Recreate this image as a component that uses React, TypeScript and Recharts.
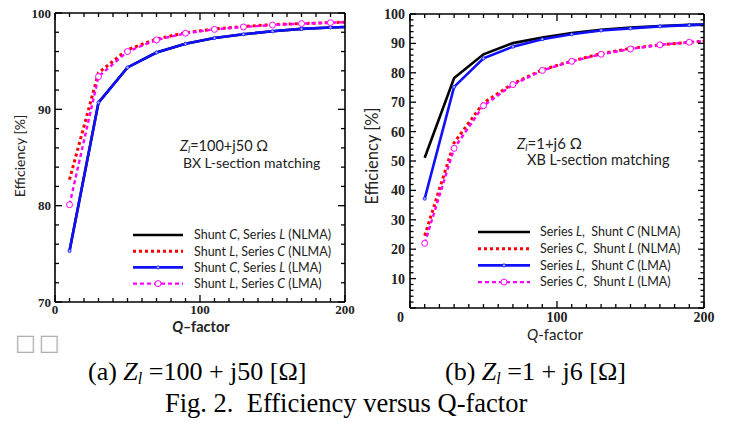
import React from 'react';
import { LineChart, Line, XAxis, YAxis, Legend } from 'recharts';

// ---------- data ----------
const qFactor = [10, 30, 50, 70, 90, 110, 130, 150, 170, 190, 210];

// (a) Zl = 100 + j50
const aNlmaShuntCSeriesL = [75.3, 90.7, 94.35, 95.9, 96.8, 97.4, 97.8, 98.1, 98.35, 98.5, 98.6];
const aNlmaShuntLSeriesC = [82.7, 93.8, 96.2, 97.3, 97.95, 98.35, 98.6, 98.8, 98.9, 99.0, 99.1];
const aLmaShuntCSeriesL = [75.3, 90.7, 94.35, 95.9, 96.8, 97.4, 97.8, 98.1, 98.35, 98.5, 98.6];
const aLmaShuntLSeriesC = [80.1, 93.4, 96.0, 97.2, 97.9, 98.3, 98.55, 98.75, 98.9, 99.0, 99.1];

// (b) Zl = 1 + j6
const bNlmaSeriesLShuntC = [51.1, 78.2, 86.3, 90.1, 92.0, 93.5, 94.6, 95.4, 95.9, 96.3, 96.6];
const bNlmaSeriesCShuntL = [24.6, 56.2, 69.8, 76.3, 81.0, 84.0, 86.5, 88.3, 89.5, 90.4, 91.1];
const bLmaSeriesLShuntC = [37.2, 75.2, 84.9, 88.9, 91.4, 93.1, 94.4, 95.1, 95.8, 96.2, 96.6];
const bLmaSeriesCShuntL = [22.0, 54.3, 68.8, 76.0, 80.8, 83.9, 86.3, 88.1, 89.5, 90.4, 91.1];

// ticks
const xLabelTicks = [0, 100, 200];
const aYLabelTicks = [70, 80, 90, 100];
const bYLabelTicks = [10, 20, 30, 40, 50, 60, 70, 80, 90, 100];
const bYMajorTicks = [0, 10, 20, 30, 40, 50, 60, 70, 80, 90, 100];
const xAllTicks = Array.from({ length: 21 }, (_, i) => i * 10);
const aYAllTicks = Array.from({ length: 16 }, (_, i) => 70 + i * 2);
const bYAllTicks = Array.from({ length: 51 }, (_, i) => i * 2);

// legend names (odd parts italic)
const aNames = [
  ['Shunt ', 'C', ', Series ', 'L', ' (NLMA)'],
  ['Shunt ', 'L', ', Series ', 'C', ' (NLMA)'],
  ['Shunt ', 'C', ', Series ', 'L', ' (LMA)'],
  ['Shunt ', 'L', ', Series ', 'C', ' (LMA)'],
];
const bNames = [
  ['Series ', 'L', ',  Shunt ', 'C', ' (NLMA)'],
  ['Series ', 'C', ',  Shunt ', 'L', ' (NLMA)'],
  ['Series ', 'L', ',  Shunt ', 'C', ' (LMA)'],
  ['Series ', 'C', ',  Shunt ', 'L', ' (LMA)'],
];

const dataA = qFactor.map((q, i) => ({
  q,
  s1: aNlmaShuntCSeriesL[i],
  s2: aNlmaShuntLSeriesC[i],
  s3: aLmaShuntCSeriesL[i],
  s4: aLmaShuntLSeriesC[i],
}));
const dataB = qFactor.map((q, i) => ({
  q,
  s1: bNlmaSeriesLShuntC[i],
  s2: bNlmaSeriesCShuntL[i],
  s3: bLmaSeriesLShuntC[i],
  s4: bLmaSeriesCShuntL[i],
}));

// ---------- styles ----------
const SANS = "Lato, 'Open Sans', sans-serif";
const SERIF = "'Liberation Serif', 'Times New Roman', serif";
const styles = [
  { key: 's1', color: '#000000', width: 2.6, dash: undefined as string | undefined, marker: 'none' },
  { key: 's2', color: '#ff0000', width: 3, dash: '3 3', marker: 'none' },
  { key: 's3', color: '#1010ff', width: 2.6, dash: undefined as string | undefined, marker: 'dot' },
  { key: 's4', color: '#ff00ff', width: 2.4, dash: '4 3', marker: 'circle' },
];

type TickOpts = {
  side: 'bottom' | 'top' | 'left' | 'right';
  majors: number[];
  labels: number[];
  offset: number;
  fontSize: number;
  majorLen: number;
  minorLen: number;
  zeroDx?: number;
};

function makeTick(o: TickOpts) {
  return function Tick(props: any) {
    const { x, y, payload } = props;
    const v = Number(payload.value);
    const isMajor = o.majors.includes(v);
    const len = isMajor ? o.majorLen : o.minorLen;
    let x2 = x;
    let y2 = y;
    if (o.side === 'bottom') y2 = y - len;
    if (o.side === 'top') y2 = y + len;
    if (o.side === 'left') x2 = x + len;
    if (o.side === 'right') x2 = x - len;
    let label = null;
    if (o.labels.includes(v)) {
      if (o.side === 'bottom') {
        label = (
          <text x={x + (v === 0 ? o.zeroDx || 0 : 0)} y={y + o.offset} textAnchor="middle"
            fontFamily={SERIF} fontWeight="bold" fontSize={o.fontSize} fill="#222">{v}</text>
        );
      } else if (o.side === 'left') {
        label = (
          <text x={x - o.offset} y={y} dy="0.35em" textAnchor="end"
            fontFamily={SERIF} fontWeight="bold" fontSize={o.fontSize} fill="#222">{v}</text>
        );
      }
    }
    return (
      <g>
        <line x1={x} y1={y} x2={x2} y2={y2} stroke="#000" strokeWidth={1.3} />
        {label}
      </g>
    );
  };
}

const BlueDot = (props: any) => {
  const { cx, cy } = props;
  if (cx == null || cy == null) return null;
  return <circle cx={cx} cy={cy} r={1.6} fill="#9fb4ff" stroke="#1010ff" strokeWidth={0.8} />;
};
const PinkCircle = (props: any) => {
  const { cx, cy } = props;
  if (cx == null || cy == null) return null;
  return <circle cx={cx} cy={cy} r={3} fill="#ffffff" stroke="#ff00ff" strokeWidth={1} />;
};

function makeLegend(names: string[][], lineLen: number, textX: number, rowH: number, fontSize: number) {
  return function LegendContent() {
    return (
      <svg width={230} height={75} style={{ overflow: 'visible', display: 'block' }}>
        {styles.map((s, i) => {
          const y = 9 + i * rowH;
          return (
            <g key={s.key}>
              <line x1={3} x2={3 + lineLen} y1={y} y2={y} stroke={s.color} strokeWidth={s.width}
                strokeDasharray={s.dash} />
              {s.marker === 'dot' && <circle cx={3 + lineLen / 2} cy={y} r={1.6} fill="#9fb4ff" stroke="#1010ff" strokeWidth={0.8} />}
              {s.marker === 'circle' && <circle cx={3 + lineLen / 2} cy={y} r={3} fill="#fff" stroke="#ff00ff" strokeWidth={1} />}
              <text x={textX} y={y} dy="0.35em" fontFamily={SANS} fontSize={fontSize} fill="#222"
                style={{ whiteSpace: 'pre' }}>
                {names[i].map((p, j) => (
                  <tspan key={j} fontStyle={j % 2 === 1 ? 'italic' : 'normal'}>{p}</tspan>
                ))}
              </text>
            </g>
          );
        })}
      </svg>
    );
  };
}

const axisLine = { stroke: '#000', strokeWidth: 1.6 };

function ChartA() {
  return (
    <LineChart width={360} height={340} data={dataA}
      margin={{ top: 8, right: 10, bottom: 8, left: 5 }}>
      <XAxis xAxisId="b" dataKey="q" type="number" domain={[0, 200]} allowDataOverflow
        ticks={xAllTicks} interval={0} tickSize={0} tickMargin={0} height={30} axisLine={axisLine}
        tick={makeTick({ side: 'bottom', majors: xLabelTicks, labels: xLabelTicks, offset: 12, fontSize: 13, majorLen: 7, minorLen: 4 })} />
      <XAxis xAxisId="t" orientation="top" dataKey="q" type="number" domain={[0, 200]} allowDataOverflow
        ticks={xAllTicks} interval={0} tickSize={0} tickMargin={0} height={5} axisLine={axisLine}
        tick={makeTick({ side: 'top', majors: xLabelTicks, labels: [], offset: 0, fontSize: 13, majorLen: 7, minorLen: 4 })} />
      <YAxis yAxisId="l" type="number" domain={[70, 100]} allowDataOverflow
        ticks={aYAllTicks} interval={0} tickSize={0} tickMargin={0} width={50} axisLine={axisLine}
        tick={makeTick({ side: 'left', majors: aYLabelTicks, labels: aYLabelTicks, offset: 4, fontSize: 13, majorLen: 7, minorLen: 4 })} />
      <YAxis yAxisId="r" orientation="right" type="number" domain={[70, 100]} allowDataOverflow
        ticks={aYAllTicks} interval={0} tickSize={0} tickMargin={0} width={5} axisLine={axisLine}
        tick={makeTick({ side: 'right', majors: aYLabelTicks, labels: [], offset: 0, fontSize: 13, majorLen: 7, minorLen: 4 })} />
      {styles.map((s) => (
        <Line key={s.key} xAxisId="b" yAxisId="l" dataKey={s.key} type="linear" stroke={s.color}
          strokeWidth={s.width} strokeDasharray={s.dash}
          dot={s.marker === 'dot' ? <BlueDot /> : s.marker === 'circle' ? <PinkCircle /> : false}
          activeDot={false} isAnimationActive={false} />
      ))}
      <Legend layout="vertical" align="center" verticalAlign="middle"
        wrapperStyle={{ position: 'absolute', left: 130, top: 226, width: 230, height: 75 }}
        content={makeLegend(aNames, 50, 64, 16.2, 12.5)} />
    </LineChart>
  );
}

function ChartB() {
  return (
    <LineChart width={371} height={340} data={dataB}
      margin={{ top: 9, right: 22, bottom: 7, left: 5 }}>
      <XAxis xAxisId="b" dataKey="q" type="number" domain={[0, 200]} allowDataOverflow
        ticks={xAllTicks} interval={0} tickSize={0} tickMargin={0} height={25} axisLine={axisLine}
        tick={makeTick({ side: 'bottom', majors: xLabelTicks, labels: xLabelTicks, offset: 14, fontSize: 14, majorLen: 7, minorLen: 4, zeroDx: -9.5 })} />
      <XAxis xAxisId="t" orientation="top" dataKey="q" type="number" domain={[0, 200]} allowDataOverflow
        ticks={xAllTicks} interval={0} tickSize={0} tickMargin={0} height={5} axisLine={axisLine}
        tick={makeTick({ side: 'top', majors: xLabelTicks, labels: [], offset: 0, fontSize: 14, majorLen: 7, minorLen: 4 })} />
      <YAxis yAxisId="l" type="number" domain={[0, 100]} allowDataOverflow
        ticks={bYAllTicks} interval={0} tickSize={0} tickMargin={0} width={45} axisLine={axisLine}
        tick={makeTick({ side: 'left', majors: bYMajorTicks, labels: bYLabelTicks, offset: 5, fontSize: 14, majorLen: 6, minorLen: 3.5 })} />
      <YAxis yAxisId="r" orientation="right" type="number" domain={[0, 100]} allowDataOverflow
        ticks={bYAllTicks} interval={0} tickSize={0} tickMargin={0} width={5} axisLine={axisLine}
        tick={makeTick({ side: 'right', majors: bYMajorTicks, labels: [], offset: 0, fontSize: 14, majorLen: 6, minorLen: 3.5 })} />
      {styles.map((s) => (
        <Line key={s.key} xAxisId="b" yAxisId="l" dataKey={s.key} type="linear" stroke={s.color}
          strokeWidth={s.width} strokeDasharray={s.dash}
          dot={s.marker === 'dot' ? <BlueDot /> : s.marker === 'circle' ? <PinkCircle /> : false}
          activeDot={false} isAnimationActive={false} />
      ))}
      <Legend layout="vertical" align="center" verticalAlign="middle"
        wrapperStyle={{ position: 'absolute', left: 115, top: 223, width: 230, height: 75 }}
        content={makeLegend(bNames, 52, 65, 16.7, 12.5)} />
    </LineChart>
  );
}

export default function App() {
  return (
    <div style={{ position: 'absolute', left: 0, top: 0, width: 731, height: 421, background: '#fff', overflow: 'hidden' }}>
      <div style={{ position: 'absolute', left: 0, top: 0 }}>
        <ChartA />
      </div>
      <div style={{ position: 'absolute', left: 360, top: 0 }}>
        <ChartB />
      </div>
      <svg width={731} height={421} style={{ position: 'absolute', left: 0, top: 0, pointerEvents: 'none' }}>
        {/* y-axis titles */}
        <text transform="rotate(-90)" x={-156} y={25} textAnchor="middle" fontFamily={SANS} fontSize={14} fill="#222">Efficiency [%]</text>
        <text transform="rotate(-90)" x={-156} y={378} textAnchor="middle" fontFamily={SANS} fontSize={16.5} fill="#222">Efficiency [%]</text>
        {/* x-axis titles */}
        <text x={201} y={332} textAnchor="middle" fontFamily={SANS} fontSize={14.5} fontWeight="bold" fill="#222">
          <tspan fontStyle="italic">Q</tspan>‒factor
        </text>
        <text x={555} y={340} textAnchor="middle" fontFamily={SANS} fontSize={15} fill="#222">
          <tspan fontStyle="italic">Q</tspan>-factor
        </text>
        {/* annotations */}
        <text x={180} y={151} fontFamily={SANS} fontSize={14.5} fill="#222">
          <tspan fontStyle="italic">Z</tspan><tspan fontStyle="italic" fontSize={9.5} dy={2}>l</tspan><tspan dy={-2}>=100+j50 Ω</tspan>
        </text>
        <text x={183} y={168} fontFamily={SANS} fontSize={14} fill="#222">BX L-section matching</text>
        <text x={517} y={149} fontFamily={SANS} fontSize={15} fill="#222">
          <tspan fontStyle="italic">Z</tspan><tspan fontStyle="italic" fontSize={9.5} dy={2}>l</tspan><tspan dy={-2}>=1+j6 Ω</tspan>
        </text>
        <text x={527} y={165} fontFamily={SANS} fontSize={14.5} fill="#222">XB L-section matching</text>
        {/* missing-glyph boxes */}
        <text x={15} y={350} fontFamily="'DejaVu Sans', sans-serif" fontSize={22} fill="#b0b0b0" letterSpacing={3}>□□</text>
        {/* captions */}
        <text x={88} y={380} fontFamily={SERIF} fontSize={26} fill="#000" style={{ whiteSpace: 'pre' }}>
          (a) <tspan fontStyle="italic">Z</tspan><tspan fontStyle="italic" fontSize={16} dy={4}>l</tspan><tspan dy={-4}> =100 + j50 [Ω]</tspan>
        </text>
        <text x={445} y={380} fontFamily={SERIF} fontSize={26} fill="#000" style={{ whiteSpace: 'pre' }}>
          (b) <tspan fontStyle="italic">Z</tspan><tspan fontStyle="italic" fontSize={16} dy={4}>l</tspan><tspan dy={-4}> =1 + j6 [Ω]</tspan>
        </text>
        <text x={165} y={412} fontFamily={SERIF} fontSize={26.5} fill="#000" style={{ whiteSpace: 'pre' }}>Fig. 2.  Efficiency versus Q-factor</text>
      </svg>
    </div>
  );
}
